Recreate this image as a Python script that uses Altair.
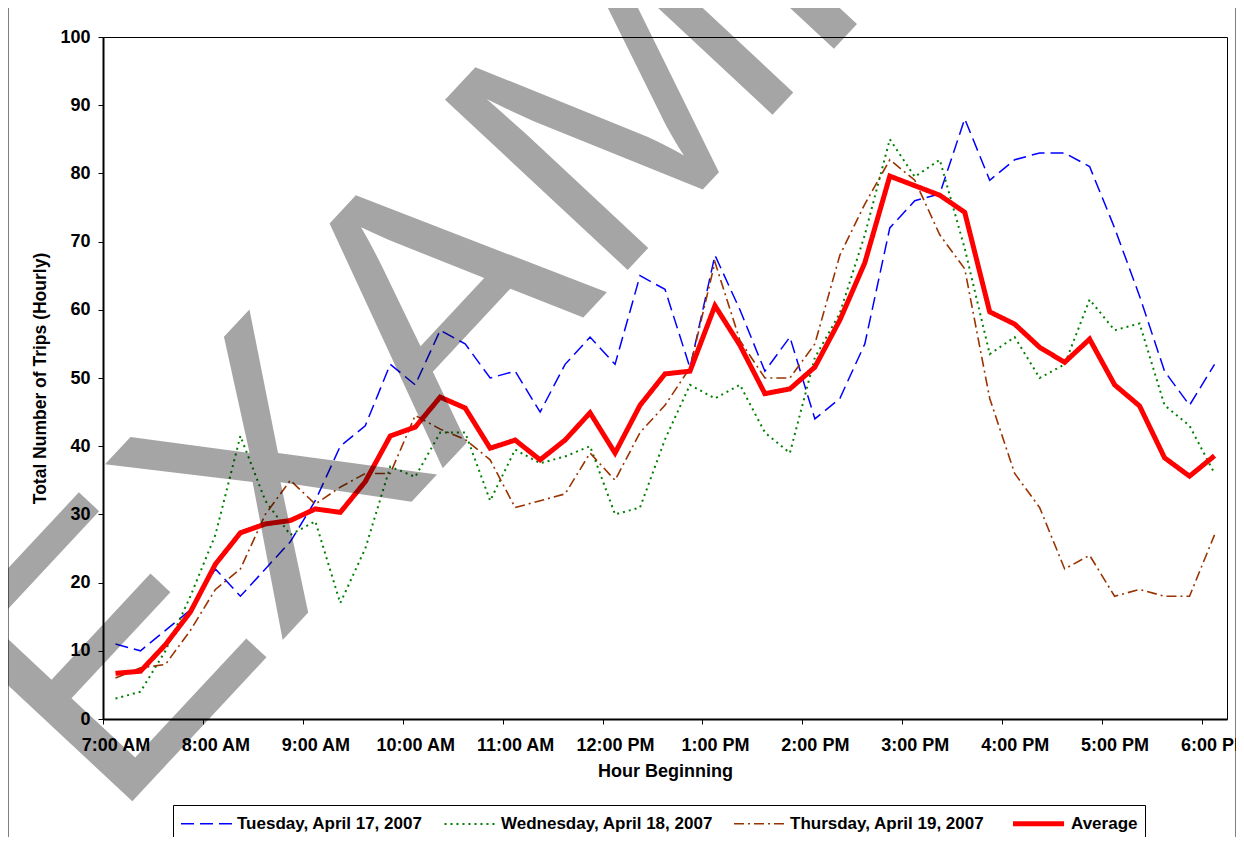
import altair as alt
import pandas as pd

# 15-minute categories from 7:00 AM to 6:00 PM
hour_names = ["7", "8", "9", "10", "11", "12", "1", "2", "3", "4", "5", "6"]
ampm = ["AM", "AM", "AM", "AM", "AM", "PM", "PM", "PM", "PM", "PM", "PM", "PM"]
minutes = ["00", "15", "30", "45"]
time_labels = []
for h, ap in zip(hour_names, ampm):
    for m in minutes:
        time_labels.append(f"{h}:{m} {ap}")
time_labels = time_labels[:45]
hour_labels = [f"{h}:00 {ap}" for h, ap in zip(hour_names, ampm)]

tuesday = [11, 10, 13, 16, 22, 18, 22, 26, 32, 40, 43, 52, 49, 57, 55, 50, 51, 45, 52, 56,
           52, 65, 63, 51.5, 68, 60, 51, 56, 44, 47, 55, 72, 76, 77, 88, 79, 82, 83, 83, 81,
           72, 62, 51, 46, 52]
wednesday = [3, 4, 10, 18, 27, 41.5, 32, 27, 29, 17, 25, 37, 35.5, 42, 42, 32, 39.5, 37.5, 38.5, 40,
             30, 31, 41, 49, 47, 49, 42, 39, 53, 59.5, 71, 85, 79.5, 82, 69, 53.5, 56, 50, 52, 61.5,
             57, 58, 46, 43, 36]
thursday = [6, 7.5, 8, 13, 19, 22, 30, 35, 31.5, 34, 36, 36, 44.5, 42.5, 41, 38, 31, 32, 33, 39,
            35, 42, 46, 51.5, 67, 55.5, 50, 50, 55, 68, 75.5, 82, 79, 71, 66, 47, 36, 31, 22, 24,
            18, 19, 18, 18, 27]
average = [6.7, 7, 10.9, 15.7, 22.7, 27.3, 28.6, 29.1, 30.8, 30.3, 34.8, 41.5, 42.8, 47.2, 45.6, 39.7,
           40.9, 38, 40.9, 44.9, 39, 46, 50.6, 51, 60.6, 54.8, 47.7, 48.4, 51.6, 58.5, 66.9, 79.6,
           78.2, 76.8, 74.3, 59.7, 57.9, 54.5, 52.3, 55.7, 49, 45.9, 38.3, 35.6, 38.6]

series_names = ["Tuesday, April 17, 2007", "Wednesday, April 18, 2007",
                "Thursday, April 19, 2007", "Average"]
series_colors = ["#0000FF", "#008000", "#993300", "#FF0000"]
series_dashes = [[13, 6], [2, 4], [10, 4, 2, 4], [1, 0]]
series_widths = [1.5, 2, 1.6, 5]

rows = []
for name, vals in zip(series_names, [tuesday, wednesday, thursday, average]):
    for t, v in zip(time_labels, vals):
        rows.append({"time": t, "series": name, "value": v})
df = pd.DataFrame(rows)

FONT = "Liberation Sans"

legend = alt.Legend(
    orient="none", legendX=70, legendY=768, direction="horizontal", title=None,
    symbolType="M-1,0H5", symbolSize=290, labelFont=FONT, labelFontSize=17,
    labelFontWeight="bold", labelColor="black", strokeColor="black", fillColor="white",
    padding=7, columnPadding=17, labelOffset=38, labelLimit=400,
)

x_enc = alt.X(
    "time:O",
    scale=alt.Scale(type="point", domain=time_labels, padding=0.5),
    axis=alt.Axis(
        values=hour_labels, labelAngle=0, tickSize=5, tickOffset=-12.49, labelOffset=12.49,
        labelPadding=12, title="Hour Beginning", titlePadding=8, titleFontSize=18, grid=False,
    ),
)
y_enc = alt.Y(
    "value:Q",
    scale=alt.Scale(domain=[0, 100], nice=False),
    axis=alt.Axis(values=list(range(0, 101, 10)), tickSize=5, labelPadding=8,
                  title="Total Number of Trips (Hourly)", titlePadding=10, titleFontSize=17.5,
                  grid=False),
)
color_enc = alt.Color("series:N", scale=alt.Scale(domain=series_names, range=series_colors), legend=legend)
dash_enc = alt.StrokeDash("series:N", scale=alt.Scale(type="ordinal", domain=series_names, range=series_dashes), legend=legend)
width_enc = alt.StrokeWidth("series:N", scale=alt.Scale(type="ordinal", domain=series_names, range=series_widths), legend=legend)

base = alt.Chart(df)
daily = base.transform_filter(alt.datum.series != "Average").mark_line(strokeJoin="miter", strokeCap="butt").encode(
    x=x_enc, y=y_enc, color=color_enc, strokeDash=dash_enc, strokeWidth=width_enc,
)
avg = base.transform_filter(alt.datum.series == "Average").mark_line(strokeJoin="miter", strokeCap="butt").encode(
    x=x_enc, y=y_enc, color=color_enc, strokeDash=dash_enc, strokeWidth=width_enc,
)

frame = alt.Chart(pd.DataFrame({"a": [1]})).mark_rect(fill=None, stroke="black", strokeWidth=1).encode(
    x=alt.value(-95), x2=alt.value(1133), y=alt.value(-30), y2=alt.value(830)
)

watermark = alt.Chart(pd.DataFrame({"t": ["EXAMPLE"]})).mark_text(
    font=FONT, fontSize=363, fontWeight="normal", align="left", baseline="alphabetic",
    angle=313, color="black", opacity=0.35,
).encode(text="t:N", x=alt.value(9), y=alt.value(786))

chart = alt.layer(frame, daily, avg, watermark).properties(
    width=1124, height=682,
    autosize=alt.AutoSizeParams(type="none"),
    padding={"left": 95, "top": 29, "right": 9, "bottom": 118},
).configure_view(stroke="black", strokeWidth=1).configure_axis(
    labelFont=FONT, labelFontSize=18, labelFontWeight="bold", labelColor="black",
    titleFont=FONT, titleFontSize=17.5, titleFontWeight="bold", titleColor="black",
    domainColor="black", domainWidth=2, tickColor="black", tickWidth=1,
)

chart.save("out.html", embed_options={"renderer": "svg", "actions": False})
